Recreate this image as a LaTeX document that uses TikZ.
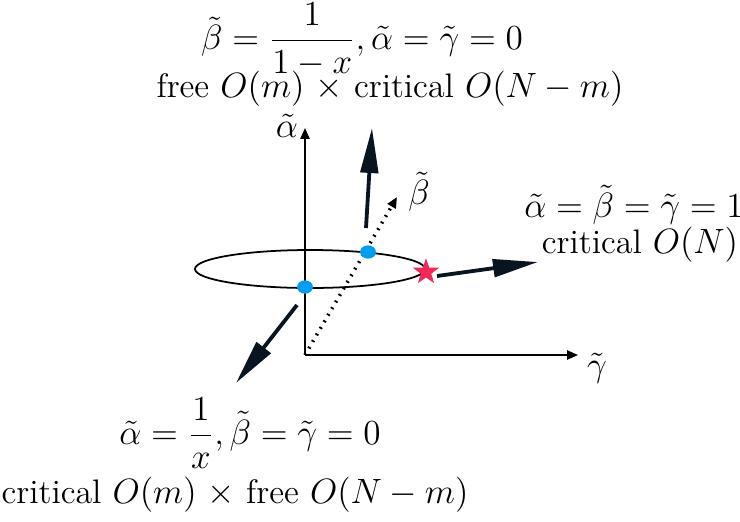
\documentclass[tikz,border=0pt]{standalone}
\usetikzlibrary{shapes.geometric, arrows.meta, positioning}
\definecolor{dotblue}{RGB}{0,158,240}
\definecolor{starred}{RGB}{242,40,90}
\definecolor{flowdark}{RGB}{8,20,32}

\begin{document}
\begin{tikzpicture}[x=0.012cm, y=-0.012cm, font=\fontsize{11.6}{14}\selectfont,
    axis/.style={-{Triangle[length=1.3mm, width=1.1mm]}, semithick},
    flow/.style={-{Triangle[length=5.4mm, width=2.1mm]}, line width=1.3pt, draw=flowdark},
    fixpt/.style={ellipse, fill=dotblue, minimum width=1.9mm, minimum height=1.6mm, inner sep=0pt},
    phase/.style={align=center, inner sep=1pt}]
    \useasboundingbox (0,0) rectangle (740,521);

    % axes
    \coordinate (origin) at (305,355);
    \coordinate (atop) at (305,128);
    \coordinate (gend) at (578,355);
    \coordinate (bend) at (397,197);
    \draw[axis] (origin) -- (atop);
    \draw[axis] (origin) -- (gend);
    \draw[axis, dotted, line width=1.2pt] (origin) -- (bend);
    \node (alab) at (287,126) {$\tilde\alpha$};
    \node (glab) at (597,368) {$\tilde\gamma$};
    \node (blab) at (419,192) {$\tilde\beta$};

    % ring and fixed points
    \draw[semithick] (310,269) ellipse (115 and 19);
    \node[fixpt] (pa) at (305,287) {};
    \node[fixpt] (pb) at (368,252) {};
    \node[star, star points=5, star point ratio=2.5, fill=starred, minimum size=3.3mm, inner sep=0pt] (pc) at (426,272) {};

    % flows
    \coordinate (fb0) at (366,228);
    \coordinate (fb1) at (372,128);
    \coordinate (fc0) at (437,276);
    \coordinate (fc1) at (538,262);
    \coordinate (fa0) at (297,305);
    \coordinate (fa1) at (236,383);
    \draw[flow] (fb0) -- (fb1);
    \draw[flow] (fc0) -- (fc1);
    \draw[flow] (fa0) -- (fa1);

    % labels
    \node[phase] (btxt) at (362,40) {$\displaystyle\tilde\beta=\frac{1}{1-x},\tilde\alpha=\tilde\gamma=0$};
    \node[phase] (bname) at (390,89) {free $O(m)$ $\times$ critical $O(N-m)$};
    \node[phase] (ctxt) at (634,205) {$\tilde\alpha=\tilde\beta=\tilde\gamma=1$};
    \node[phase] (cname) at (640,245) {critical $O(N)$};
    \node[phase] (atxt) at (250,433) {$\displaystyle\tilde\alpha=\frac{1}{x},\tilde\beta=\tilde\gamma=0$};
    \node[phase] (aname) at (235,495) {critical $O(m)$ $\times$ free $O(N-m)$};
\end{tikzpicture}
\end{document}
